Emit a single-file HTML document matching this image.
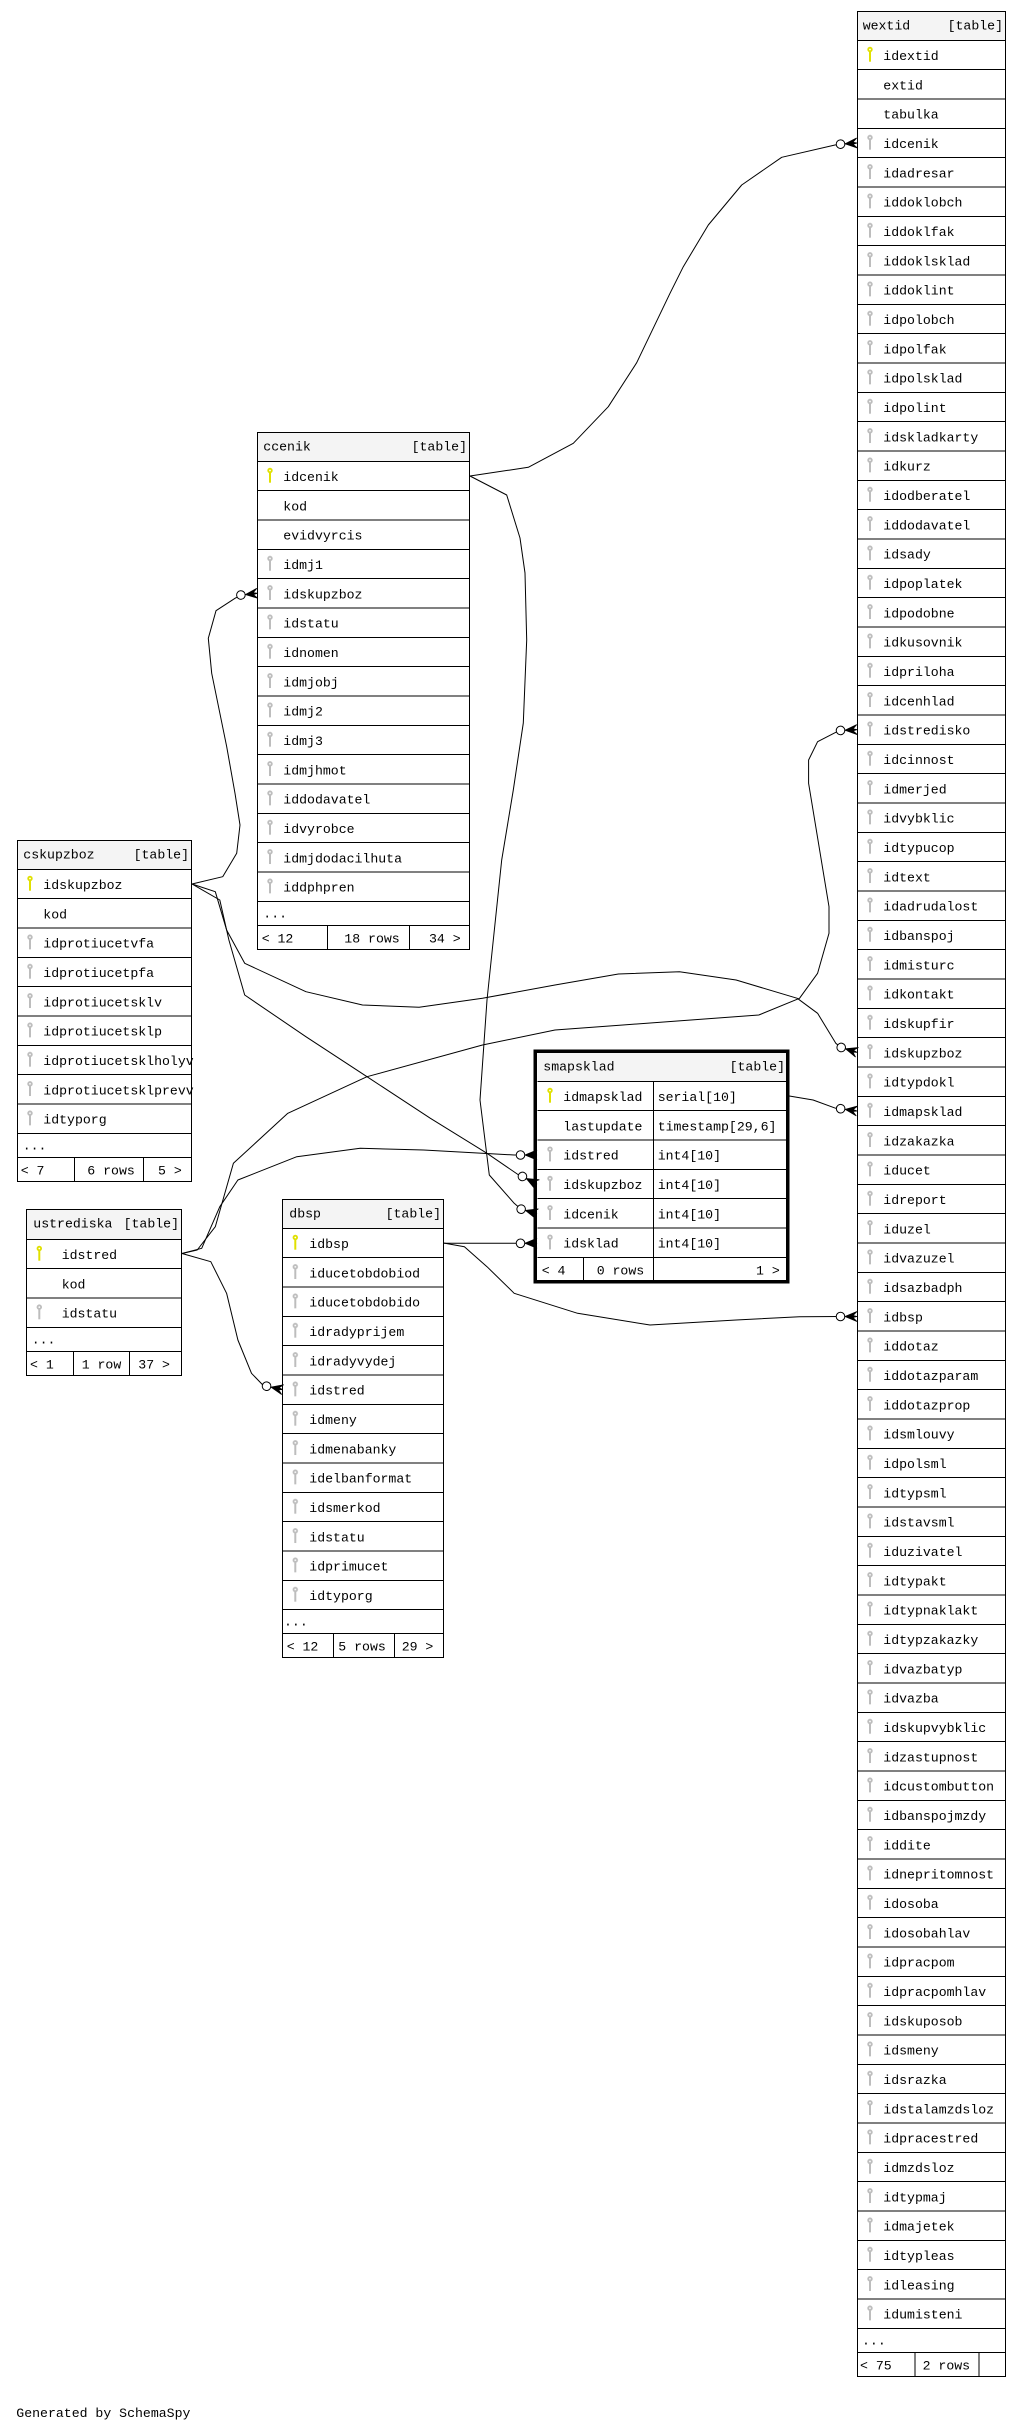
<!DOCTYPE html>
<html><head><meta charset="utf-8"><style>
html,body{margin:0;padding:0;background:#fff;}
svg{display:block;}
text{font-family:"Liberation Mono",monospace;font-size:13.2px;fill:#000;}
</style></head><body>
<svg width="1020" height="2431" viewBox="0 0 1020 2431" xmlns="http://www.w3.org/2000/svg">
<defs>
<g id="pk"><circle cx="0" cy="2.8" r="2.7" fill="#e0e000"/><circle cx="0" cy="2.8" r="0.9" fill="#fff"/><rect x="-1" y="5" width="2" height="10" fill="#e0e000"/></g>
<g id="fk"><circle cx="0" cy="2.8" r="2.7" fill="#bdbdbd"/><circle cx="0" cy="2.8" r="0.9" fill="#fff"/><rect x="-1" y="5" width="2" height="10" fill="#bdbdbd"/></g>
<g id="ar"><path d="M-16.5,0H-11" stroke="#000" fill="none"/><circle cx="-16.5" cy="0" r="4.3" fill="#fff" stroke="#000"/><path d="M-12,0L0,-5L-4,-1L0,0L-4,1L0,5Z" fill="#000" stroke="#000" stroke-width="0.8"/></g>
<pattern id="pw" patternUnits="userSpaceOnUse" x="863" y="40.3" width="14" height="29.3333"><use href="#fk" x="7" y="6.4"/></pattern>
<pattern id="pc" patternUnits="userSpaceOnUse" x="263" y="461.3" width="14" height="29.3333"><use href="#fk" x="7" y="6.4"/></pattern>
<pattern id="ps" patternUnits="userSpaceOnUse" x="23" y="869.3" width="14" height="29.3333"><use href="#fk" x="7" y="6.4"/></pattern>
<pattern id="pd" patternUnits="userSpaceOnUse" x="288.3" y="1228.3" width="14" height="29.3333"><use href="#fk" x="7" y="6.4"/></pattern>
</defs>

<!-- ===== connectors ===== -->
<g fill="none" stroke="#000" stroke-width="1" stroke-linejoin="round">
<polyline points="470,476 528.3,467.3 573.3,443.3 608.3,406.7 636.7,362.7 670,293.3 683.3,266.7 708.3,225 741.7,185 781.7,157.3 835,145 840.5,144.2"/>
<polyline points="470,476 506.7,495 520,538 525,573 526.7,640 523.3,723 513.3,790 501.7,860 487,1000 480,1100 489.3,1175 514.2,1203.3 521.1,1209.2"/>
<polyline points="192,884 222.7,876.7 236.7,853.3 240,825 235,793.3 226.7,746.7 211.7,673.3 208.3,638.3 216,610.7 235,598.3 240.9,595"/>
<polyline points="192,884 215.3,891.7 226.6,930 244.7,963.3 305.9,991.7 362.5,1005 419.1,1007.3 482.5,998.3 555,985 618.4,974 679.5,971.7 736.1,980 797.3,998.3 817.6,1013.3 835.8,1043.3 841.2,1047.5"/>
<polyline points="192,884 219.8,900 228.9,940 244.7,995 305.9,1036.7 367,1076.7 430.4,1118.3 487,1153.3 518.7,1175 522.4,1176.5"/>
<polyline points="182,1253.5 197.2,1250 215.3,1226.7 233.4,1163.3 287.8,1113.3 367,1076.7 482.5,1045 555,1030 622.9,1025 758.8,1015 799.5,998.3 817.6,973.3 829,933.3 829,906.7 808.6,783.3 808.6,760 817.6,741.7 835.8,732.3 840.5,730.5"/>
<polyline points="182,1253.5 201.7,1248.3 219.8,1206.7 237.9,1180 296.8,1156.7 360.2,1148.3 423.6,1150 514.2,1155 520.5,1155"/>
<polyline points="182,1253.5 210.8,1261.7 226.6,1293.3 237.9,1340 251.5,1373.3 262.8,1385 266.6,1386.2"/>
<polyline points="443.5,1243.3 520.5,1243.3"/>
<polyline points="443.5,1243 464.4,1246.7 487,1266.7 514.2,1293.3 577.6,1313.3 650,1325 736.1,1320 799.5,1316.7 840.5,1316.5"/>
<polyline points="789.3,1096 813.1,1100 835.8,1108.3 840.7,1108.7"/>
</g>

<!-- ===== wextid ===== -->
<g shape-rendering="crispEdges">
<rect x="857.3" y="11.3" width="148" height="2365" fill="#fff"/>
<rect x="857.3" y="11.3" width="148" height="29" fill="#f4f4f4"/>
<path fill="none" stroke="#000" d="M857.3,40.3h148m-148,29.333h148m-148,29.333h148m-148,29.333h148m-148,29.333h148m-148,29.333h148m-148,29.333h148m-148,29.333h148m-148,29.333h148m-148,29.333h148m-148,29.333h148m-148,29.333h148m-148,29.333h148m-148,29.333h148m-148,29.333h148m-148,29.333h148m-148,29.333h148m-148,29.333h148m-148,29.333h148m-148,29.333h148m-148,29.333h148m-148,29.333h148m-148,29.333h148m-148,29.333h148m-148,29.333h148m-148,29.333h148m-148,29.333h148m-148,29.333h148m-148,29.333h148m-148,29.333h148m-148,29.333h148m-148,29.333h148m-148,29.333h148m-148,29.333h148m-148,29.333h148m-148,29.333h148m-148,29.333h148m-148,29.333h148m-148,29.333h148m-148,29.333h148m-148,29.333h148m-148,29.333h148m-148,29.333h148m-148,29.333h148m-148,29.333h148m-148,29.333h148m-148,29.333h148m-148,29.333h148m-148,29.333h148m-148,29.333h148m-148,29.333h148m-148,29.333h148m-148,29.333h148m-148,29.333h148m-148,29.333h148m-148,29.333h148m-148,29.333h148m-148,29.333h148m-148,29.333h148m-148,29.333h148m-148,29.333h148m-148,29.333h148m-148,29.333h148m-148,29.333h148m-148,29.333h148m-148,29.333h148m-148,29.333h148m-148,29.333h148m-148,29.333h148m-148,29.333h148m-148,29.333h148m-148,29.333h148m-148,29.333h148m-148,29.333h148m-148,29.333h148m-148,29.333h148m-148,29.333h148m-148,29.333h148m-148,29.333h148M857.3,2352.7h148M914.8,2352.7V2376.3M979.2,2352.7V2376.3"/>
<rect x="857.3" y="11.3" width="148" height="2365" fill="none" stroke="#000"/>
</g>
<use href="#pk" x="870" y="46.7"/>
<rect x="863" y="128.3" width="14" height="2200" fill="url(#pw)"/>
<text x="862.7" y="29.3">wextid</text><text x="1003" y="29.3" text-anchor="end">[table]</text>
<text y="60"><tspan x="883.3">idextid</tspan><tspan x="883.3" dy="29.333">extid</tspan><tspan x="883.3" dy="29.333">tabulka</tspan><tspan x="883.3" dy="29.333">idcenik</tspan><tspan x="883.3" dy="29.333">idadresar</tspan><tspan x="883.3" dy="29.333">iddoklobch</tspan><tspan x="883.3" dy="29.333">iddoklfak</tspan><tspan x="883.3" dy="29.333">iddoklsklad</tspan><tspan x="883.3" dy="29.333">iddoklint</tspan><tspan x="883.3" dy="29.333">idpolobch</tspan><tspan x="883.3" dy="29.333">idpolfak</tspan><tspan x="883.3" dy="29.333">idpolsklad</tspan><tspan x="883.3" dy="29.333">idpolint</tspan><tspan x="883.3" dy="29.333">idskladkarty</tspan><tspan x="883.3" dy="29.333">idkurz</tspan><tspan x="883.3" dy="29.333">idodberatel</tspan><tspan x="883.3" dy="29.333">iddodavatel</tspan><tspan x="883.3" dy="29.333">idsady</tspan><tspan x="883.3" dy="29.333">idpoplatek</tspan><tspan x="883.3" dy="29.333">idpodobne</tspan><tspan x="883.3" dy="29.333">idkusovnik</tspan><tspan x="883.3" dy="29.333">idpriloha</tspan><tspan x="883.3" dy="29.333">idcenhlad</tspan><tspan x="883.3" dy="29.333">idstredisko</tspan><tspan x="883.3" dy="29.333">idcinnost</tspan><tspan x="883.3" dy="29.333">idmerjed</tspan><tspan x="883.3" dy="29.333">idvybklic</tspan><tspan x="883.3" dy="29.333">idtypucop</tspan><tspan x="883.3" dy="29.333">idtext</tspan><tspan x="883.3" dy="29.333">idadrudalost</tspan><tspan x="883.3" dy="29.333">idbanspoj</tspan><tspan x="883.3" dy="29.333">idmisturc</tspan><tspan x="883.3" dy="29.333">idkontakt</tspan><tspan x="883.3" dy="29.333">idskupfir</tspan><tspan x="883.3" dy="29.333">idskupzboz</tspan><tspan x="883.3" dy="29.333">idtypdokl</tspan><tspan x="883.3" dy="29.333">idmapsklad</tspan><tspan x="883.3" dy="29.333">idzakazka</tspan><tspan x="883.3" dy="29.333">iducet</tspan><tspan x="883.3" dy="29.333">idreport</tspan><tspan x="883.3" dy="29.333">iduzel</tspan><tspan x="883.3" dy="29.333">idvazuzel</tspan><tspan x="883.3" dy="29.333">idsazbadph</tspan><tspan x="883.3" dy="29.333">idbsp</tspan><tspan x="883.3" dy="29.333">iddotaz</tspan><tspan x="883.3" dy="29.333">iddotazparam</tspan><tspan x="883.3" dy="29.333">iddotazprop</tspan><tspan x="883.3" dy="29.333">idsmlouvy</tspan><tspan x="883.3" dy="29.333">idpolsml</tspan><tspan x="883.3" dy="29.333">idtypsml</tspan><tspan x="883.3" dy="29.333">idstavsml</tspan><tspan x="883.3" dy="29.333">iduzivatel</tspan><tspan x="883.3" dy="29.333">idtypakt</tspan><tspan x="883.3" dy="29.333">idtypnaklakt</tspan><tspan x="883.3" dy="29.333">idtypzakazky</tspan><tspan x="883.3" dy="29.333">idvazbatyp</tspan><tspan x="883.3" dy="29.333">idvazba</tspan><tspan x="883.3" dy="29.333">idskupvybklic</tspan><tspan x="883.3" dy="29.333">idzastupnost</tspan><tspan x="883.3" dy="29.333">idcustombutton</tspan><tspan x="883.3" dy="29.333">idbanspojmzdy</tspan><tspan x="883.3" dy="29.333">iddite</tspan><tspan x="883.3" dy="29.333">idnepritomnost</tspan><tspan x="883.3" dy="29.333">idosoba</tspan><tspan x="883.3" dy="29.333">idosobahlav</tspan><tspan x="883.3" dy="29.333">idpracpom</tspan><tspan x="883.3" dy="29.333">idpracpomhlav</tspan><tspan x="883.3" dy="29.333">idskuposob</tspan><tspan x="883.3" dy="29.333">idsmeny</tspan><tspan x="883.3" dy="29.333">idsrazka</tspan><tspan x="883.3" dy="29.333">idstalamzdsloz</tspan><tspan x="883.3" dy="29.333">idpracestred</tspan><tspan x="883.3" dy="29.333">idmzdsloz</tspan><tspan x="883.3" dy="29.333">idtypmaj</tspan><tspan x="883.3" dy="29.333">idmajetek</tspan><tspan x="883.3" dy="29.333">idtypleas</tspan><tspan x="883.3" dy="29.333">idleasing</tspan><tspan x="883.3" dy="29.333">idumisteni</tspan></text>
<text x="862" y="2344.3">...</text>
<text x="860" y="2369.7">&lt; 75</text><text x="922.6" y="2369.7">2 rows</text>

<!-- ===== ccenik ===== -->
<g shape-rendering="crispEdges">
<rect x="257.3" y="432.3" width="212" height="517" fill="#fff"/>
<rect x="257.3" y="432.3" width="212" height="29" fill="#f4f4f4"/>
<path fill="none" stroke="#000" d="M257.3,461.3h212m-212,29.333h212m-212,29.333h212m-212,29.333h212m-212,29.333h212m-212,29.333h212m-212,29.333h212m-212,29.333h212m-212,29.333h212m-212,29.333h212m-212,29.333h212m-212,29.333h212m-212,29.333h212m-212,29.333h212m-212,29.333h212m-212,29.333h212M257.3,925.7h212M327.7,925.7V949.3M409.7,925.7V949.3"/>
<rect x="257.3" y="432.3" width="212" height="517" fill="none" stroke="#000"/>
</g>
<use href="#pk" x="270" y="467.7"/>
<rect x="263" y="549.3" width="14" height="352" fill="url(#pc)"/>
<text x="263.3" y="450.3">ccenik</text><text x="467" y="450.3" text-anchor="end">[table]</text>
<text y="481"><tspan x="283.3">idcenik</tspan><tspan x="283.3" dy="29.333">kod</tspan><tspan x="283.3" dy="29.333">evidvyrcis</tspan><tspan x="283.3" dy="29.333">idmj1</tspan><tspan x="283.3" dy="29.333">idskupzboz</tspan><tspan x="283.3" dy="29.333">idstatu</tspan><tspan x="283.3" dy="29.333">idnomen</tspan><tspan x="283.3" dy="29.333">idmjobj</tspan><tspan x="283.3" dy="29.333">idmj2</tspan><tspan x="283.3" dy="29.333">idmj3</tspan><tspan x="283.3" dy="29.333">idmjhmot</tspan><tspan x="283.3" dy="29.333">iddodavatel</tspan><tspan x="283.3" dy="29.333">idvyrobce</tspan><tspan x="283.3" dy="29.333">idmjdodacilhuta</tspan><tspan x="283.3" dy="29.333">iddphpren</tspan></text>
<text x="263.3" y="917.3">...</text>
<text x="261.7" y="942.7">&lt; 12</text><text x="344.3" y="942.7">18 rows</text><text x="429" y="942.7">34 &gt;</text>

<!-- ===== cskupzboz ===== -->
<g shape-rendering="crispEdges">
<rect x="17.3" y="840.3" width="174.4" height="341" fill="#fff"/>
<rect x="17.3" y="840.3" width="174.4" height="29" fill="#f4f4f4"/>
<path fill="none" stroke="#000" d="M17.3,869.3h174.4m-174.4,29.333h174.4m-174.4,29.333h174.4m-174.4,29.333h174.4m-174.4,29.333h174.4m-174.4,29.333h174.4m-174.4,29.333h174.4m-174.4,29.333h174.4m-174.4,29.333h174.4m-174.4,29.333h174.4M17.3,1157.3h174.4M74.3,1157.3V1181.3M143.3,1157.3V1181.3"/>
<rect x="17.3" y="840.3" width="174.4" height="341" fill="none" stroke="#000"/>
</g>
<use href="#pk" x="30" y="875.7"/>
<rect x="23" y="928" width="14" height="205.33" fill="url(#ps)"/>
<text x="23.3" y="858.3">cskupzboz</text><text x="189" y="858.3" text-anchor="end">[table]</text>
<text y="889"><tspan x="43.3">idskupzboz</tspan><tspan x="43.3" dy="29.333">kod</tspan><tspan x="43.3" dy="29.333">idprotiucetvfa</tspan><tspan x="43.3" dy="29.333">idprotiucetpfa</tspan><tspan x="43.3" dy="29.333">idprotiucetsklv</tspan><tspan x="43.3" dy="29.333">idprotiucetsklp</tspan><tspan x="43.3" dy="29.333">idprotiucetsklholyv</tspan><tspan x="43.3" dy="29.333">idprotiucetsklprevv</tspan><tspan x="43.3" dy="29.333">idtyporg</tspan></text>
<text x="22.7" y="1149.3">...</text>
<text x="20.7" y="1174.3">&lt; 7</text><text x="87.3" y="1174.3">6 rows</text><text x="158" y="1174.3">5 &gt;</text>

<!-- ===== ustrediska ===== -->
<g shape-rendering="crispEdges">
<rect x="26.7" y="1209.3" width="155" height="166" fill="#fff"/>
<rect x="26.7" y="1209.3" width="155" height="30" fill="#f4f4f4"/>
<path fill="none" stroke="#000" d="M26.7,1239.3h155m-155,29.333h155m-155,29.333h155m-155,29.333h155M26.7,1351.3h155M73.3,1351.3V1375.3M129.3,1351.3V1375.3"/>
<rect x="26.7" y="1209.3" width="155" height="166" fill="none" stroke="#000"/>
</g>
<use href="#pk" x="39.3" y="1245.7"/>
<use href="#fk" x="39.3" y="1304.3"/>
<text x="33.3" y="1227.3">ustrediska</text><text x="179" y="1227.3" text-anchor="end">[table]</text>
<text y="1259"><tspan x="61.7">idstred</tspan><tspan x="61.7" dy="29.333">kod</tspan><tspan x="61.7" dy="29.333">idstatu</tspan></text>
<text x="31.7" y="1343.3">...</text>
<text x="30" y="1368.3">&lt; 1</text><text x="81.7" y="1368.3">1 row</text><text x="138.3" y="1368.3">37 &gt;</text>

<!-- ===== dbsp ===== -->
<g shape-rendering="crispEdges">
<rect x="282.7" y="1199.3" width="160.6" height="458" fill="#fff"/>
<rect x="282.7" y="1199.3" width="160.6" height="29" fill="#f4f4f4"/>
<path fill="none" stroke="#000" d="M282.7,1228.3h160.6m-160.6,29.333h160.6m-160.6,29.333h160.6m-160.6,29.333h160.6m-160.6,29.333h160.6m-160.6,29.333h160.6m-160.6,29.333h160.6m-160.6,29.333h160.6m-160.6,29.333h160.6m-160.6,29.333h160.6m-160.6,29.333h160.6m-160.6,29.333h160.6m-160.6,29.333h160.6m-160.6,29.333h160.6M282.7,1633.3h160.6M333.3,1633.3V1657.3M394.3,1633.3V1657.3"/>
<rect x="282.7" y="1199.3" width="160.6" height="458" fill="none" stroke="#000"/>
</g>
<use href="#pk" x="295.3" y="1234.7"/>
<rect x="288.3" y="1257.63" width="14" height="352" fill="url(#pd)"/>
<text x="289.3" y="1217.3">dbsp</text><text x="441" y="1217.3" text-anchor="end">[table]</text>
<text y="1248"><tspan x="309.3">idbsp</tspan><tspan x="309.3" dy="29.333">iducetobdobiod</tspan><tspan x="309.3" dy="29.333">iducetobdobido</tspan><tspan x="309.3" dy="29.333">idradyprijem</tspan><tspan x="309.3" dy="29.333">idradyvydej</tspan><tspan x="309.3" dy="29.333">idstred</tspan><tspan x="309.3" dy="29.333">idmeny</tspan><tspan x="309.3" dy="29.333">idmenabanky</tspan><tspan x="309.3" dy="29.333">idelbanformat</tspan><tspan x="309.3" dy="29.333">idsmerkod</tspan><tspan x="309.3" dy="29.333">idstatu</tspan><tspan x="309.3" dy="29.333">idprimucet</tspan><tspan x="309.3" dy="29.333">idtyporg</tspan></text>
<text x="284" y="1625.3">...</text>
<text x="286.7" y="1650.3">&lt; 12</text><text x="338.3" y="1650.3">5 rows</text><text x="401.7" y="1650.3">29 &gt;</text>

<!-- ===== smapsklad ===== -->
<g shape-rendering="crispEdges">
<rect x="533.3" y="1049.3" width="256" height="234" fill="#fff"/>
<rect x="537.3" y="1052.7" width="250" height="28.6" fill="#f4f4f4"/>
<path fill="none" stroke="#000" d="M537.3,1081.3h250m-250,29.333h250m-250,29.333h250m-250,29.333h250m-250,29.333h250m-250,29.333h250m-250,29.333h250M653.3,1081.3V1281M583.3,1257.3V1281"/>
<rect x="535.3" y="1051" width="252.3" height="230.6" fill="none" stroke="#000" stroke-width="3.5"/>
</g>
<use href="#pk" x="550" y="1087.7"/>
<use href="#fk" x="550" y="1146.4"/>
<use href="#fk" x="550" y="1175.7"/>
<use href="#fk" x="550" y="1205.0"/>
<use href="#fk" x="550" y="1234.4"/>
<text x="543.3" y="1070.7">smapsklad</text><text x="785" y="1070.7" text-anchor="end">[table]</text>
<text y="1101"><tspan x="563.3">idmapsklad</tspan><tspan x="563.3" dy="29.333">lastupdate</tspan><tspan x="563.3" dy="29.333">idstred</tspan><tspan x="563.3" dy="29.333">idskupzboz</tspan><tspan x="563.3" dy="29.333">idcenik</tspan><tspan x="563.3" dy="29.333">idsklad</tspan></text>
<text y="1101"><tspan x="657.7">serial[10]</tspan><tspan x="657.7" dy="29.333">timestamp[29,6]</tspan><tspan x="657.7" dy="29.333">int4[10]</tspan><tspan x="657.7" dy="29.333">int4[10]</tspan><tspan x="657.7" dy="29.333">int4[10]</tspan><tspan x="657.7" dy="29.333">int4[10]</tspan></text>
<text x="541.7" y="1274.3">&lt; 4</text><text x="596.7" y="1274.3">0 rows</text><text x="756" y="1274.3">1 &gt;</text>

<!-- ===== arrowheads ===== -->
<use href="#ar" transform="translate(857,143) rotate(-4)"/>
<use href="#ar" transform="translate(537,1213.7) rotate(16)"/>
<use href="#ar" transform="translate(257.3,593.3) rotate(-6)"/>
<use href="#ar" transform="translate(857,1052.3) rotate(17)"/>
<use href="#ar" transform="translate(537,1184.2) rotate(28)"/>
<use href="#ar" transform="translate(857,729.6) rotate(-3)"/>
<use href="#ar" transform="translate(537,1155)"/>
<use href="#ar" transform="translate(282.7,1389.6) rotate(12)"/>
<use href="#ar" transform="translate(537,1243.3)"/>
<use href="#ar" transform="translate(857,1316.5)"/>
<use href="#ar" transform="translate(857,1111) rotate(8)"/>

<text x="16.3" y="2417">Generated by SchemaSpy</text>
</svg>
</body></html>
